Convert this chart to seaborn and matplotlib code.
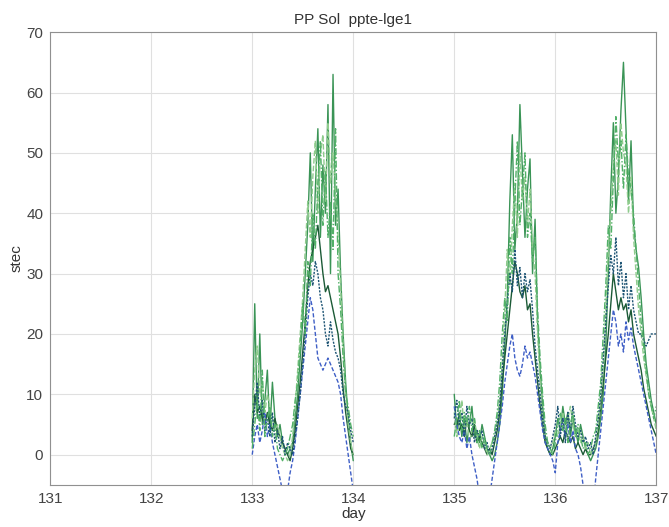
import numpy as np
import pandas as pd
import matplotlib
matplotlib.use('Agg')
import matplotlib.pyplot as plt
import seaborn as sns

# 時刻 (day) - 2つの観測区間
day_a = [133.000, 133.025, 133.050, 133.075, 133.100, 133.125, 133.150, 133.175, 133.200, 133.225,
         133.250, 133.275, 133.300, 133.325, 133.350, 133.375, 133.400, 133.425, 133.450, 133.475,
         133.500, 133.525, 133.550, 133.575, 133.600, 133.625, 133.650, 133.675, 133.700, 133.725,
         133.750, 133.775, 133.800, 133.825, 133.850, 133.875, 133.900, 133.925, 133.950, 133.975,
         134.000]
day_b = [135.000, 135.025, 135.050, 135.075, 135.100, 135.125, 135.150, 135.175, 135.200, 135.225,
         135.250, 135.275, 135.300, 135.325, 135.350, 135.375, 135.400, 135.425, 135.450, 135.475,
         135.500, 135.525, 135.550, 135.575, 135.600, 135.625, 135.650, 135.675, 135.700, 135.725,
         135.750, 135.775, 135.800, 135.825, 135.850, 135.875, 135.900, 135.925, 135.950, 135.975,
         136.000, 136.025, 136.050, 136.075, 136.100, 136.125, 136.150, 136.175, 136.200, 136.225,
         136.250, 136.275, 136.300, 136.325, 136.350, 136.375, 136.400, 136.425, 136.450, 136.475,
         136.500, 136.525, 136.550, 136.575, 136.600, 136.625, 136.650, 136.675, 136.700, 136.725,
         136.750, 136.775, 136.800, 136.825, 136.850, 136.875, 136.900, 136.925, 136.950, 136.975,
         137.000]

# stec 値 (区間A)
s1_a = [2, 25, 6, 20, 5, 9, 14, 4, 12, 6, 3, 5, 2, 1, 0, 1, 2, 6, 10, 16,
        22, 30, 38, 50, 32, 44, 54, 36, 48, 40, 58, 30, 63, 38, 44, 30, 20, 12, 6, 2, -1]
s2_a = [4, 10, 7, 8, 6, 5, 7, 5, 4, 6, 4, 3, 2, 1, 0, -1, 1, 4, 8, 12,
        17, 22, 28, 32, 34, 36, 38, 34, 30, 27, 28, 26, 24, 22, 20, 16, 11, 7, 4, 1, 0]
s3_a = [6, 14, 18, 10, 12, 7, 10, 8, 6, 4, 5, 3, 1, 0, -1, 0, 3, 8, 14, 20,
        26, 34, 42, 36, 46, 52, 40, 50, 53, 42, 55, 45, 50, 43, 36, 28, 18, 10, 5, 2, 0]
s4_a = [0, 3, 5, 2, 4, 7, 3, 5, 2, 0, -2, -4, -6, -8, -6, -3, -1, 2, 6, 10,
        14, 18, 22, 26, 24, 20, 16, 15, 14, 15, 16, 15, 14, 13, 12, 10, 6, 3, 0, -3, -6]
s5_a = [3, 8, 12, 6, 9, 4, 6, 3, 7, 2, 4, 1, 3, 0, 2, 1, 0, 3, 6, 10,
        15, 20, 26, 30, 28, 32, 30, 26, 24, 20, 18, 22, 19, 17, 16, 14, 10, 8, 7, 4, 2]
s6_a = [1, 5, 9, 4, 14, 3, 6, 8, 3, 5, 1, 0, -1, 0, 1, 3, 5, 9, 12, 18,
        25, 20, 32, 28, 40, 34, 45, 52, 38, 47, 36, 42, 34, 54, 30, 24, 16, 10, 8, 5, 3]

# stec 値 (区間B)
s1_b = [10, 4, 7, 3, 6, 2, 5, 8, 3, 4,
        2, 5, 3, 1, 0, -1, 0, 2, 5, 10,
        18, 26, 42, 53, 34, 40, 58, 47, 36, 44,
        49, 30, 39, 22, 14, 8, 3, 1, 0, 1,
        3, 6, 4, 8, 5, 7, 3, 6, 4, 2,
        5, 3, 1, 0, -1, 0, 1, 3, 6, 10,
        18, 30, 44, 55, 40, 46, 57, 65, 54, 42,
        52, 38, 34, 31, 26, 20, 15, 12, 9, 7, 5]
s2_b = [5, 6, 4, 5, 3, 6, 4, 3, 5, 2,
        3, 2, 1, 0, 1, 0, 2, 4, 7, 12,
        16, 20, 24, 28, 32, 30, 27, 26, 28, 24,
        25, 20, 16, 12, 8, 5, 2, 1, 0, 0,
        1, 2, 3, 2, 4, 3, 2, 3, 1, 2,
        1, 0, 1, 0, 0, 1, 2, 4, 8, 12,
        16, 20, 25, 30, 27, 24, 26, 24, 25, 22,
        24, 20, 18, 16, 14, 11, 9, 7, 5, 4, 3]
s3_b = [7, 3, 5, 9, 4, 6, 2, 4, 6, 3,
        1, 3, 2, 0, 1, 2, 3, 6, 9, 15,
        24, 34, 28, 38, 45, 36, 50, 42, 46, 38,
        44, 34, 30, 20, 12, 6, 3, 2, 1, 2,
        4, 3, 5, 7, 4, 6, 8, 5, 3, 4,
        2, 3, 1, 2, 0, 1, 2, 5, 9, 14,
        24, 34, 40, 48, 52, 43, 55, 50, 48, 40,
        46, 36, 30, 24, 20, 16, 13, 10, 8, 6, 4]
s4_b = [8, 5, 3, 2, 4, 1, 3, 0, -2, -4,
        -7, -9, -6, -9, -7, -4, -1, 2, 5, 8,
        12, 15, 18, 20, 16, 14, 13, 15, 18, 16,
        17, 15, 13, 10, 7, 4, 2, 1, 0, -1,
        -3, 2, 4, 6, 3, 5, 2, 4, 1, 0,
        -2, -5, -8, -9, -7, -9, -4, 0, 4, 8,
        12, 16, 20, 24, 22, 18, 20, 17, 22, 19,
        21, 18, 16, 14, 12, 10, 8, 6, 4, 2, 0]
s5_b = [6, 9, 5, 7, 3, 8, 5, 6, 2, 4,
        3, 4, 1, 2, 0, 1, 3, 5, 8, 14,
        20, 25, 30, 27, 34, 28, 31, 26, 30, 27,
        29, 24, 18, 14, 10, 6, 3, 2, 1, 3,
        5, 8, 3, 6, 2, 7, 4, 8, 5, 3,
        4, 2, 3, 1, 2, 0, 3, 6, 10, 16,
        22, 28, 33, 30, 36, 28, 32, 26, 30, 24,
        28, 24, 22, 20, 20, 19, 18, 19, 20, 20, 20]
s6_b = [3, 6, 9, 4, 7, 5, 8, 4, 6, 2,
        4, 1, 3, 1, 0, 2, 4, 7, 12, 20,
        26, 22, 36, 30, 42, 52, 38, 44, 50, 36,
        40, 32, 36, 24, 16, 10, 5, 2, 1, 0,
        2, 5, 7, 4, 6, 2, 5, 7, 3, 5,
        3, 1, 2, 0, 1, 3, 4, 8, 12, 20,
        28, 38, 34, 46, 56, 48, 52, 44, 53, 46,
        44, 40, 34, 28, 22, 18, 14, 10, 8, 6, 8]

tracks = {
    's1': (s1_a, s1_b),
    's2': (s2_a, s2_b),
    's3': (s3_a, s3_b),
    's4': (s4_a, s4_b),
    's5': (s5_a, s5_b),
    's6': (s6_a, s6_b),
}

rows = []
for name, (va, vb) in tracks.items():
    for d, v in zip(day_a, va):
        rows.append((d, v, name, name + '_a'))
    for d, v in zip(day_b, vb):
        rows.append((d, v, name, name + '_b'))
df = pd.DataFrame(rows, columns=['day', 'stec', 'track', 'seg'])

palette = {'s1': '#3a9456', 's2': '#1b5a36', 's3': '#8ecb8c',
           's4': '#3f5fc6', 's5': '#1d5474', 's6': '#52b068'}
dashes = {'s1': '', 's2': '', 's3': (4, 1.5), 's4': (3, 1.5),
          's5': (1.5, 1), 's6': (5, 1.5, 1, 1.5)}

sns.set_theme(style='white')
plt.rcParams['font.family'] = ['Liberation Sans', 'DejaVu Sans']

fig = plt.figure(figsize=(6.69, 5.27), dpi=100)
ax = fig.add_axes([0.075, 0.08, 0.906, 0.859])

sns.lineplot(data=df, x='day', y='stec', hue='track', style='track', units='seg',
             estimator=None, sort=False, palette=palette, dashes=dashes,
             linewidth=1.0, legend=False, ax=ax)

ax.set_xlim(131, 137)
ax.set_ylim(-5, 70)
ax.set_xticks([131, 132, 133, 134, 135, 136, 137])
ax.set_yticks([0, 10, 20, 30, 40, 50, 60, 70])
ax.grid(True, color='#e0e0e0', linewidth=0.8)
ax.set_axisbelow(True)
for sp in ax.spines.values():
    sp.set_color('#909090')
    sp.set_linewidth(0.8)
ax.tick_params(direction='in', length=3, colors='#444444', labelsize=11, pad=5)
ax.set_title('PP Sol  ppte-lge1', fontsize=11, color='#333333', pad=6)
ax.set_xlabel('day', fontsize=11, color='#333333', labelpad=1)
ax.set_ylabel('stec', fontsize=11, color='#333333', labelpad=2)

fig.savefig('out.png', dpi=100)
